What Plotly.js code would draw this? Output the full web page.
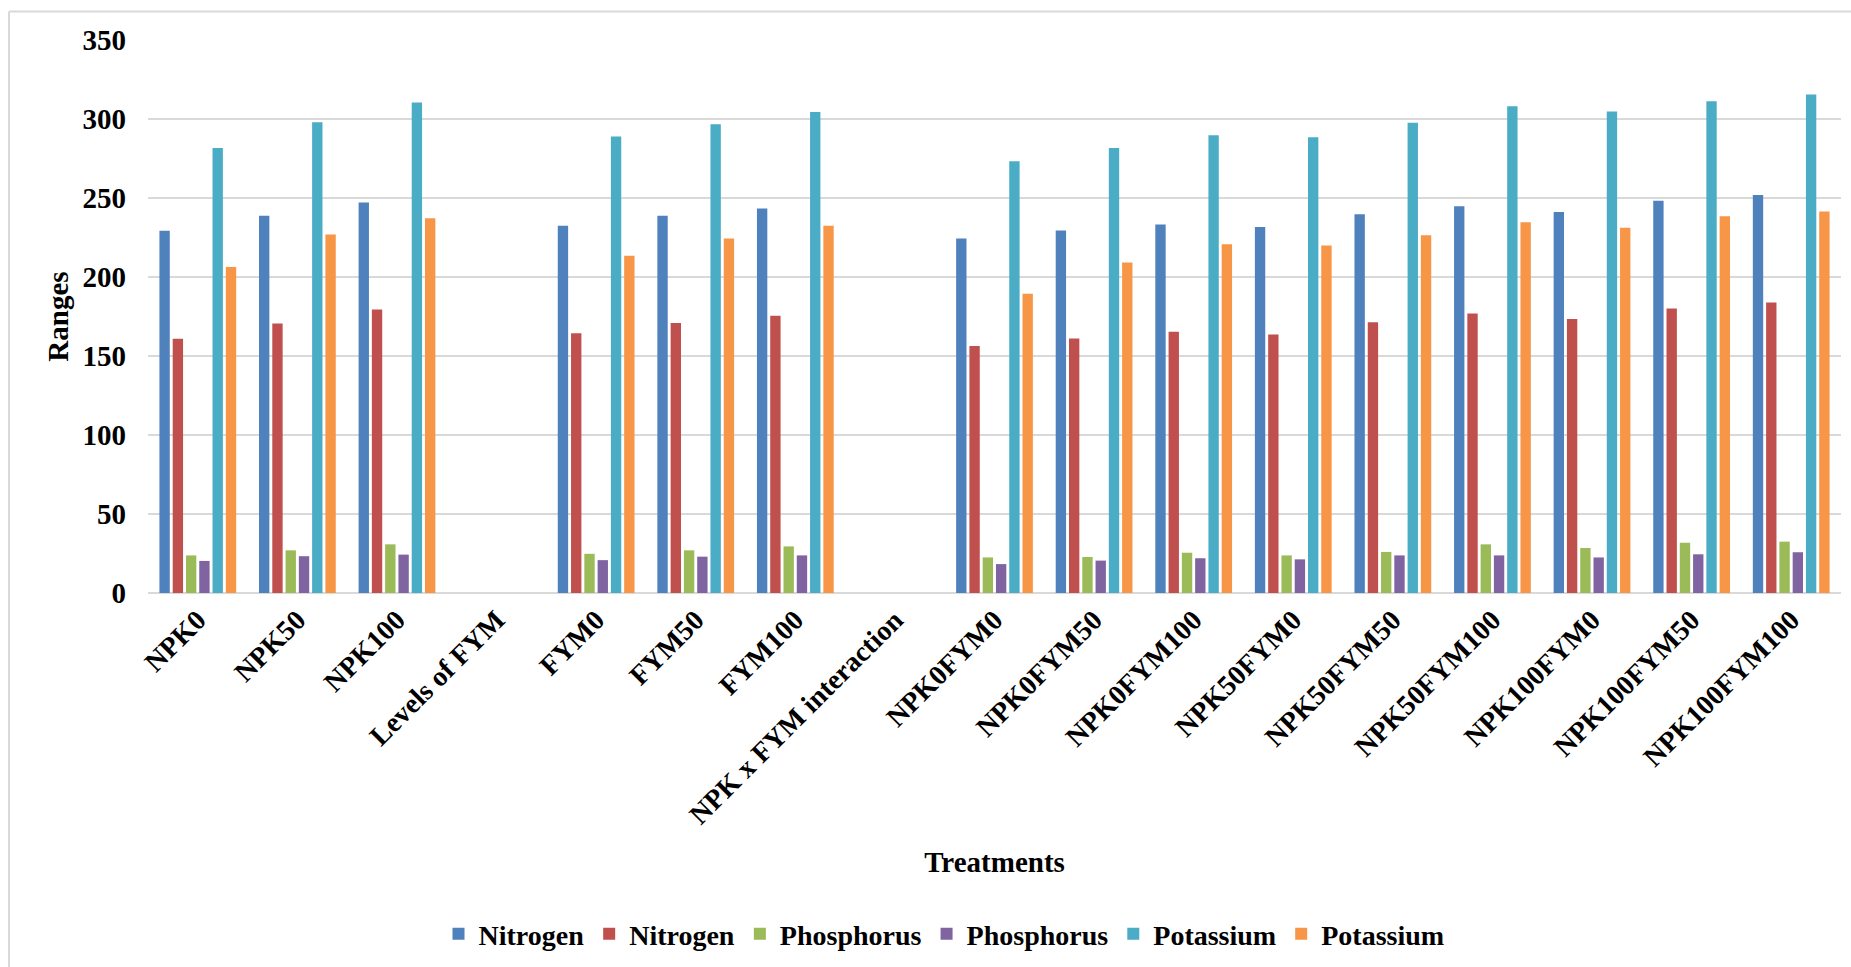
<!DOCTYPE html>
<html>
<head>
<meta charset="utf-8">
<script src="https://cdn.plot.ly/plotly-3.0.1.min.js"></script>
<style>
  html, body { margin: 0; padding: 0; background: #ffffff; }
  #chart { width: 1851px; height: 967px; }
</style>
</head>
<body>
<div id="chart"></div>
<script>
// Categories (x axis)
const categories = [
  "NPK0", "NPK50", "NPK100", "Levels of FYM", "FYM0", "FYM50", "FYM100",
  "NPK x FYM interaction", "NPK0FYM0", "NPK0FYM50", "NPK0FYM100",
  "NPK50FYM0", "NPK50FYM50", "NPK50FYM100", "NPK100FYM0", "NPK100FYM50", "NPK100FYM100"
];

// Series values
const nitrogenA   = [229.2, 238.7, 247.2, null, 232.4, 238.7, 243.4, null, 224.4, 229.4, 233.2, 231.7, 239.7, 244.7, 241.2, 248.2, 251.9];
const nitrogenB   = [160.9, 170.6, 179.4, null, 164.4, 170.9, 175.4, null, 156.4, 161.1, 165.4, 163.6, 171.4, 176.9, 173.4, 180.1, 183.9];
const phosphorusA = [23.8, 27.0, 30.8, null, 24.8, 27.0, 29.5, null, 22.5, 22.8, 25.5, 23.8, 26.0, 30.8, 28.5, 31.8, 32.5];
const phosphorusB = [20.3, 23.3, 24.3, null, 20.8, 23.0, 23.8, null, 18.3, 20.5, 22.0, 21.3, 23.8, 23.8, 22.5, 24.5, 25.8];
const potassiumA  = [281.7, 298.0, 310.5, null, 289.0, 296.7, 304.5, null, 273.2, 281.7, 289.7, 288.5, 297.7, 308.0, 304.7, 311.2, 315.5];
const potassiumB  = [206.4, 226.9, 237.2, null, 213.4, 224.4, 232.4, null, 189.4, 209.2, 220.7, 219.9, 226.4, 234.7, 231.2, 238.4, 241.4];

const seriesNames = ["Nitrogen", "Nitrogen", "Phosphorus", "Phosphorus", "Potassium", "Potassium"];
const seriesValues = [nitrogenA, nitrogenB, phosphorusA, phosphorusB, potassiumA, potassiumB];
const seriesColors = ["#4f81bd", "#c0504d", "#9bbb59", "#8064a2", "#4bacc6", "#f79646"];

const yTicks = [0, 50, 100, 150, 200, 250, 300, 350];

const FONT = "Liberation Serif, Times New Roman, serif";

const traces = seriesValues.map((vals, i) => ({
  type: "bar",
  name: seriesNames[i],
  x: categories,
  y: vals,
  marker: { color: seriesColors[i] },
  hoverinfo: "x+y+name"
}));

const layout = {
  width: 1851,
  height: 967,
  paper_bgcolor: "#ffffff",
  plot_bgcolor: "#ffffff",
  margin: { l: 148, r: 10, t: 39.5, b: 374.3 },
  barmode: "group",
  bargap: 0.2,
  bargroupgap: 0.22,
  font: { family: FONT, color: "#000000", size: 28, weight: "bold" },
  xaxis: {
    type: "category",
    categoryorder: "array",
    categoryarray: categories,
    tickangle: -45,
    tickfont: { family: FONT, size: 28, color: "#000000", weight: "bold" },
    showgrid: false,
    showline: false,
    ticks: "",
    ticklabelstandoff: 4,
    automargin: false,
    title: { text: "Treatments", font: { family: FONT, size: 29, color: "#000000", weight: "bold" }, standoff: 22 }
  },
  yaxis: {
    range: [0, 350],
    tickvals: yTicks,
    ticktext: yTicks.map(String),
    tickfont: { family: FONT, size: 29, color: "#000000", weight: "bold" },
    showgrid: true,
    gridcolor: "#d9d9d9",
    gridwidth: 1.5,
    zeroline: true,
    zerolinecolor: "#d9d9d9",
    zerolinewidth: 2,
    showline: false,
    ticks: "",
    ticklabelstandoff: 21,
    automargin: false,
    title: { text: "Ranges", font: { family: FONT, size: 29, color: "#000000", weight: "bold" }, standoff: 5 }
  },
  showlegend: true,
  legend: {
    orientation: "h",
    xref: "container",
    yref: "container",
    x: 0.51,
    xanchor: "center",
    y: 0.034,
    yanchor: "middle",
    font: { family: FONT, size: 28, color: "#000000", weight: "bold" },
    itemwidth: 30,
    traceorder: "normal"
  },
  shapes: [
    { type: "line", xref: "paper", yref: "paper", x0: -139 / 1693, x1: 1.2, y0: 1 + 28.5 / 553.2, y1: 1 + 28.5 / 553.2,
      line: { color: "#d9d9d9", width: 2 } },
    { type: "line", xref: "paper", yref: "paper", x0: -139 / 1693, x1: -139 / 1693, y0: 1 + 28.5 / 553.2, y1: -1,
      line: { color: "#d9d9d9", width: 2 } }
  ]
};

Plotly.newPlot("chart", traces, layout, { displayModeBar: false, responsive: false });
</script>
</body>
</html>
